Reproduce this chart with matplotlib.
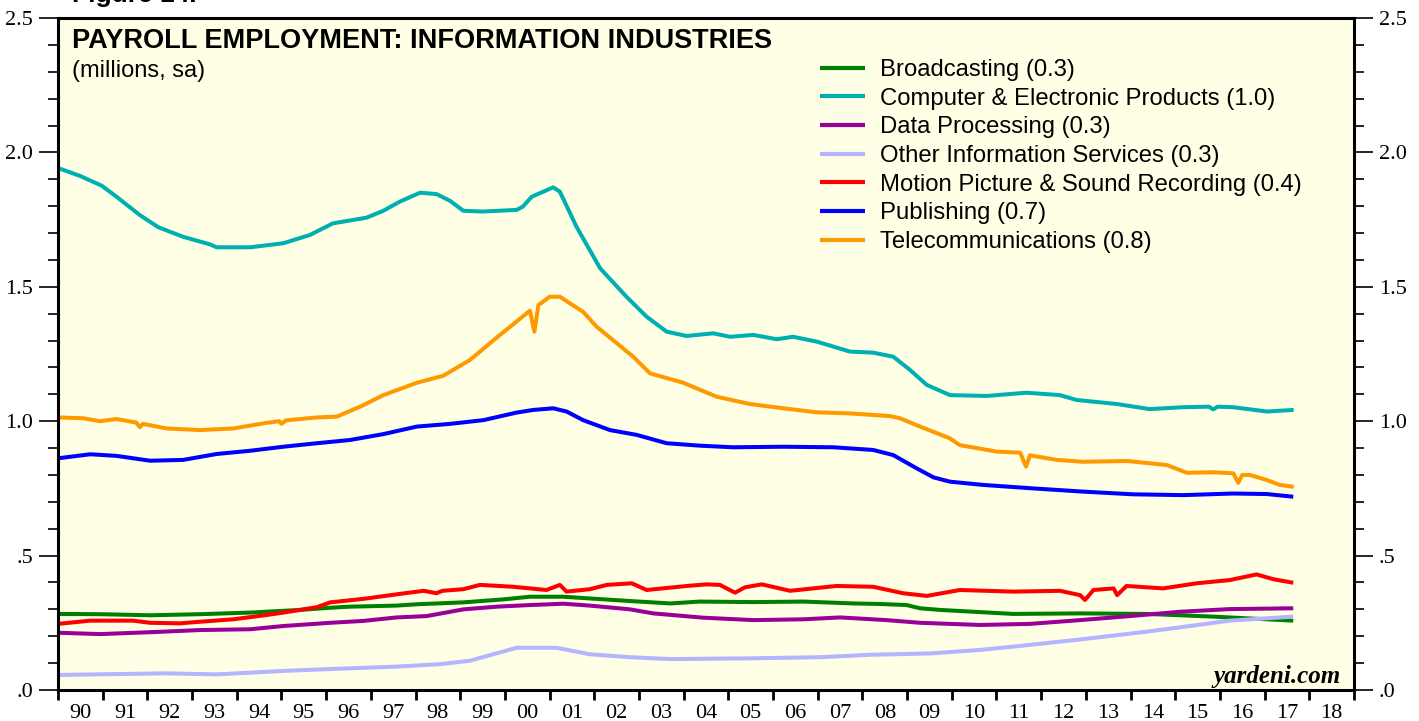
import matplotlib
matplotlib.use('Agg')
import matplotlib.pyplot as plt
from matplotlib.ticker import MultipleLocator, FixedLocator

# values, millions (year as decimal)
comp_x = [1990.0, 1990.5, 1990.98, 1991.31, 1991.83, 1992.24, 1992.8, 1993.4, 1993.55, 1994.3, 1995.04,
          1995.64, 1996.15, 1996.9, 1997.27, 1997.65, 1998.1, 1998.47, 1998.77, 1999.07, 1999.5, 2000.26,
          2000.4, 2000.6, 2001.08, 2001.23, 2001.6, 2002.13, 2002.72, 2003.17, 2003.62, 2004.07, 2004.66,
          2005.04, 2005.56, 2006.08, 2006.45, 2006.98, 2007.72, 2008.24, 2008.69, 2009.07, 2009.44,
          2009.96, 2010.78, 2011.67, 2012.42, 2012.79, 2013.69, 2014.43, 2015.17, 2015.75, 2015.85,
          2015.95, 2016.3, 2017.05, 2017.65]
comp_v = [1.942, 1.912, 1.876, 1.835, 1.767, 1.722, 1.686, 1.658, 1.647, 1.647, 1.662, 1.693, 1.736,
          1.757, 1.782, 1.817, 1.850, 1.845, 1.820, 1.783, 1.780, 1.786, 1.798, 1.835, 1.870, 1.854,
          1.724, 1.569, 1.463, 1.389, 1.333, 1.317, 1.327, 1.314, 1.321, 1.305, 1.314, 1.296, 1.259,
          1.255, 1.240, 1.190, 1.135, 1.097, 1.094, 1.106, 1.097, 1.079, 1.064, 1.045, 1.052, 1.054,
          1.044, 1.054, 1.052, 1.036, 1.042]

tele_x = [1990.0, 1990.56, 1990.94, 1991.31, 1991.75, 1991.83, 1991.9, 1992.43, 1993.18, 1993.92,
          1994.67, 1994.95, 1995.0, 1995.1, 1995.79, 1996.24, 1996.76, 1997.28, 1998.03, 1998.62,
          1999.22, 1999.89, 2000.56, 2000.66, 2000.75, 2001.0, 2001.23, 2001.75, 2002.05, 2002.87,
          2003.25, 2003.99, 2004.74, 2005.48, 2006.23, 2006.98, 2007.72, 2008.62, 2008.84, 2009.29,
          2009.96, 2010.18, 2011.0, 2011.53, 2011.66, 2011.75, 2011.82, 2012.35, 2012.94, 2013.92,
          2014.81, 2015.26, 2015.85, 2016.3, 2016.41, 2016.5, 2016.67, 2017.05, 2017.34, 2017.65]
tele_v = [1.014, 1.011, 1.000, 1.008, 0.995, 0.978, 0.990, 0.973, 0.967, 0.973, 0.994, 1.000, 0.990,
          1.003, 1.014, 1.017, 1.054, 1.097, 1.143, 1.169, 1.228, 1.321, 1.411, 1.333, 1.432, 1.463,
          1.463, 1.407, 1.352, 1.240, 1.178, 1.143, 1.091, 1.064, 1.048, 1.033, 1.029, 1.019, 1.011,
          0.980, 0.936, 0.911, 0.887, 0.883, 0.831, 0.873, 0.871, 0.856, 0.849, 0.852, 0.837, 0.808,
          0.810, 0.806, 0.771, 0.800, 0.800, 0.781, 0.763, 0.756]

pub_x = [1990.0, 1990.72, 1991.31, 1992.06, 1992.8, 1993.55, 1994.3, 1995.04, 1995.79, 1996.53,
         1997.28, 1998.03, 1998.77, 1999.52, 2000.26, 2000.64, 2001.08, 2001.38, 2001.75, 2002.35,
         2002.95, 2003.62, 2004.36, 2005.11, 2006.23, 2007.35, 2008.24, 2008.69, 2009.21, 2009.59,
         2009.96, 2010.7, 2011.82, 2012.94, 2014.06, 2015.18, 2016.3, 2017.05, 2017.64]
pub_v = [0.862, 0.877, 0.871, 0.853, 0.856, 0.878, 0.890, 0.905, 0.918, 0.930, 0.952, 0.980, 0.990,
         1.004, 1.032, 1.042, 1.048, 1.036, 1.004, 0.967, 0.949, 0.918, 0.909, 0.903, 0.905, 0.903,
         0.893, 0.874, 0.825, 0.791, 0.775, 0.763, 0.750, 0.738, 0.728, 0.725, 0.731, 0.729, 0.719]

broad_x = [1990.0, 1990.94, 1992.06, 1993.18, 1994.3, 1995.42, 1996.09, 1996.53, 1997.58, 1998.03,
           1999.07, 1999.96, 2000.56, 2001.31, 2002.05, 2002.8, 2003.7, 2004.36, 2005.56, 2006.68,
           2007.8, 2008.39, 2008.99, 2009.29, 2009.73, 2011.38, 2012.87, 2014.36, 2015.85, 2017.64]
broad_v = [0.283, 0.282, 0.278, 0.282, 0.288, 0.298, 0.306, 0.310, 0.314, 0.319, 0.326, 0.337, 0.347,
           0.347, 0.339, 0.331, 0.322, 0.329, 0.327, 0.329, 0.322, 0.320, 0.316, 0.304, 0.298, 0.283,
           0.285, 0.283, 0.273, 0.258]

data_x = [1990.0, 1990.94, 1992.06, 1993.18, 1994.3, 1995.04, 1996.09, 1996.83, 1997.58, 1998.25,
          1999.07, 1999.82, 2000.56, 2001.31, 2001.9, 2002.8, 2003.32, 2004.44, 2005.56, 2006.68,
          2007.5, 2008.54, 2009.29, 2010.63, 2011.75, 2012.87, 2013.99, 2015.1, 2016.22, 2017.64]
data_v = [0.213, 0.208, 0.215, 0.223, 0.226, 0.238, 0.250, 0.257, 0.270, 0.275, 0.300, 0.310, 0.316,
          0.321, 0.314, 0.300, 0.285, 0.269, 0.260, 0.263, 0.270, 0.260, 0.250, 0.242, 0.246, 0.260,
          0.275, 0.291, 0.301, 0.304]

other_x = [1990.0, 1992.42, 1993.55, 1995.04, 1996.09, 1997.58, 1998.55, 1999.22, 1999.74, 2000.26,
           2001.16, 2001.9, 2002.8, 2003.7, 2005.56, 2007.05, 2008.17, 2009.51, 2010.63, 2011.53,
           2012.87, 2014.36, 2015.1, 2016.22, 2017.64]
other_v = [0.056, 0.062, 0.058, 0.071, 0.078, 0.087, 0.096, 0.109, 0.133, 0.157, 0.157, 0.133, 0.122,
           0.115, 0.118, 0.122, 0.131, 0.136, 0.149, 0.164, 0.188, 0.217, 0.233, 0.258, 0.273]

motion_x = [1990.0, 1990.72, 1991.68, 1992.06, 1992.73, 1993.18, 1993.92, 1994.67, 1995.04, 1995.79,
            1996.09, 1996.83, 1997.58, 1998.18, 1998.47, 1998.6, 1999.07, 1999.44, 2000.19, 2000.93,
            2001.23, 2001.38, 2001.9, 2002.28, 2002.84, 2003.17, 2004.07, 2004.51, 2004.81, 2005.15,
            2005.37, 2005.75, 2006.38, 2007.42, 2008.24, 2008.91, 2009.44, 2010.18, 2011.38, 2012.42,
            2012.87, 2012.98, 2013.17, 2013.62, 2013.7, 2013.91, 2014.73, 2015.48, 2016.22, 2016.82,
            2017.2, 2017.64]
motion_v = [0.246, 0.258, 0.258, 0.250, 0.248, 0.254, 0.263, 0.279, 0.288, 0.308, 0.326, 0.339, 0.356,
            0.369, 0.360, 0.369, 0.375, 0.391, 0.384, 0.372, 0.391, 0.366, 0.375, 0.391, 0.397, 0.372,
            0.387, 0.393, 0.391, 0.362, 0.382, 0.393, 0.369, 0.387, 0.384, 0.360, 0.350, 0.372, 0.366,
            0.369, 0.353, 0.335, 0.372, 0.378, 0.353, 0.387, 0.378, 0.397, 0.409, 0.430, 0.412, 0.399]

years = list(range(1990, 2019))
year_labels = ['%02d' % (y % 100) for y in years]
ytick_vals = [0.0, 0.5, 1.0, 1.5, 2.0, 2.5]
ytick_labels = ['.0', '.5', '1.0', '1.5', '2.0', '2.5']

series = [
    (broad_x, broad_v, 'Broadcasting (0.3)', '#008000'),
    (comp_x, comp_v, 'Computer & Electronic Products (1.0)', '#00B0B0'),
    (data_x, data_v, 'Data Processing (0.3)', '#990099'),
    (other_x, other_v, 'Other Information Services (0.3)', '#B4B4FF'),
    (motion_x, motion_v, 'Motion Picture & Sound Recording (0.4)', '#FF0000'),
    (pub_x, pub_v, 'Publishing (0.7)', '#0000FF'),
    (tele_x, tele_v, 'Telecommunications (0.8)', '#FF9900'),
]

sans = ['Liberation Sans', 'DejaVu Sans']
serif = ['Liberation Serif', 'DejaVu Serif']

fig = plt.figure(figsize=(14.19, 7.21), dpi=100)
ax = fig.add_axes([58 / 1419, 31 / 721, 1296 / 1419, 672 / 721])
ax.set_facecolor('#FFFFE6')

for xs, vs, lab, col in series:
    ax.plot(xs, vs, color=col, lw=2.9, label=lab, solid_capstyle='butt')

ax.set_xlim(1990, 2019)
ax.set_ylim(0, 2.5)

# year ticks at boundaries, labels centred in each year
ax.xaxis.set_major_locator(FixedLocator(years + [2019]))
ax.xaxis.set_minor_locator(FixedLocator([y + 0.5 for y in years]))
ax.set_xticklabels([])
ax.set_xticklabels(year_labels, minor=True, family=serif, fontsize=16)
ax.tick_params(axis='x', which='major', direction='out', length=7, width=2)
ax.tick_params(axis='x', which='minor', length=0, pad=10)

ax.set_yticks(ytick_vals)
ax.set_yticklabels(ytick_labels, family=serif, fontsize=16)
ax.yaxis.set_minor_locator(MultipleLocator(0.1))
ax.tick_params(axis='y', which='major', direction='out', length=14, width=1.2,
               left=True, right=True, labelleft=True, labelright=True, pad=4)
ax.tick_params(axis='y', which='minor', direction='out', length=7, width=1.2, left=True, right=True)

for s in ax.spines.values():
    s.set_linewidth(2.2)

ax.text(0.0108, 0.985, 'PAYROLL EMPLOYMENT: INFORMATION INDUSTRIES', transform=ax.transAxes,
        family=sans, fontsize=19.5, fontweight='bold', va='top', ha='left')
ax.text(0.0108, 0.9375, '(millions, sa)', transform=ax.transAxes,
        family=sans, fontsize=17, va='top', ha='left')
ax.text(0.99, 0.011, 'yardeni.com', transform=ax.transAxes, family=serif, fontsize=18,
        fontweight='bold', fontstyle='italic', ha='right', va='baseline')
fig.text(72 / 1419, 1 - 7 / 721, 'Figure 14.', family=sans, fontsize=19, fontweight='bold',
         ha='left', va='bottom')

leg = ax.legend(loc='upper left', bbox_to_anchor=(0.588, 0.939), frameon=False,
                prop={'family': sans, 'size': 17.2}, handlelength=1.9, handletextpad=0.63,
                labelspacing=0.28, borderpad=0, borderaxespad=0)
for h in leg.get_lines():
    h.set_linewidth(3)

fig.savefig('out.png', dpi=100)
